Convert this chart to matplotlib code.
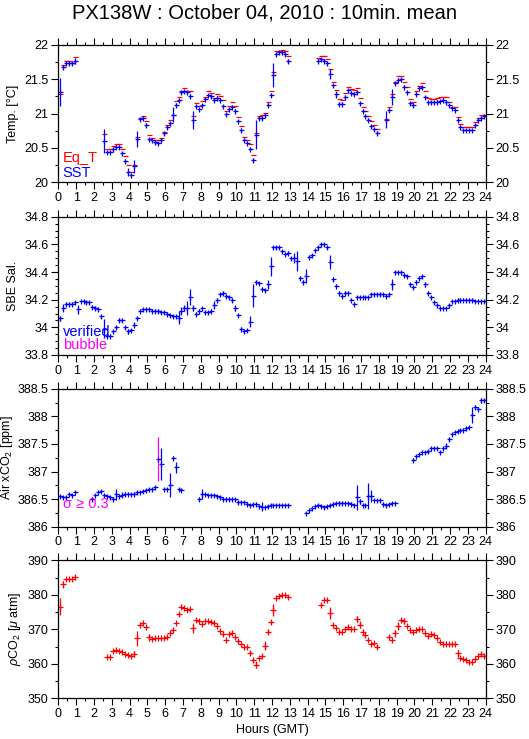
import numpy as np
import matplotlib
matplotlib.use('Agg')
import matplotlib.pyplot as plt
from matplotlib.ticker import MultipleLocator, FuncFormatter

nan = np.nan

# ---------------- data (10-min means, 144 intervals) ----------------
hours = (np.arange(144) + 0.5) / 6.0

sst = [21.31, 21.67, 21.73, 21.73, 21.73, 21.76,
       nan, nan, nan, nan, nan, nan, nan, nan, nan,
       20.60, 20.44, 20.44, 20.48, 20.52, 20.52, 20.42, 20.31, 20.15, 20.10,
       20.23, 20.63, 20.92, 20.94, 20.83, 20.63, 20.61, 20.58, 20.57, 20.62,
       20.71, 20.80, 20.86, 20.98, 21.13, 21.19, 21.31, 21.32, 21.31, 21.26,
       20.91, 21.11, 21.06, 21.12, 21.21, 21.27, 21.25, 21.20, 21.23, 21.20,
       21.11, 20.99, 21.06, 21.10, 21.04, 20.89, 20.76, 20.62, 20.57, 20.49,
       20.33, 20.69, 20.94, 20.94, 20.98, 21.12, 21.27, 21.56, 21.86, 21.89,
       21.89, 21.86, 21.76,
       nan, nan, nan, nan, nan, nan, nan, nan, nan,
       21.77, 21.79, 21.77, 21.73, 21.57, 21.41, 21.28, 21.14, 21.14, 21.24,
       21.34, 21.30, 21.29, 21.31, 21.15, 21.04, 20.97, 20.91, 20.82, 20.77,
       20.72,
       nan, nan,
       20.91, 21.05, 21.24, 21.44, 21.49, 21.50, 21.39, 21.31, 21.15, 21.12,
       21.29, 21.37, 21.38, 21.24, 21.16, 21.16, 21.16, 21.17, 21.18, 21.20,
       21.17, 21.12, 21.08, 21.05, 20.91, 20.81, 20.76, 20.76, 20.76, 20.76,
       20.83, 20.91, 20.94, 20.96]

sst_sd = [0.20, 0.03, 0.02, 0.02, 0.02, 0.04,
          nan, nan, nan, nan, nan, nan, nan, nan, nan,
          0.18, 0.02, 0.02, 0.02, 0.02, 0.02, 0.02, 0.03, 0.06, 0.02,
          0.10, 0.12, 0.02, 0.02, 0.03, 0.02, 0.02, 0.02, 0.02, 0.02,
          0.02, 0.02, 0.02, 0.11, 0.02, 0.02, 0.02, 0.02, 0.02, 0.03,
          0.13, 0.02, 0.02, 0.02, 0.02, 0.02, 0.02, 0.02, 0.02, 0.02,
          0.02, 0.02, 0.02, 0.02, 0.02, 0.02, 0.03, 0.02, 0.02, 0.02,
          0.03, 0.21, 0.02, 0.02, 0.02, 0.03, 0.03, 0.17, 0.02, 0.02,
          0.02, 0.02, 0.03,
          nan, nan, nan, nan, nan, nan, nan, nan, nan,
          0.02, 0.02, 0.02, 0.02, 0.07, 0.02, 0.05, 0.02, 0.02, 0.03,
          0.02, 0.02, 0.02, 0.02, 0.02, 0.02, 0.02, 0.02, 0.02, 0.02,
          0.02,
          nan, nan,
          0.12, 0.03, 0.12, 0.02, 0.02, 0.02, 0.02, 0.02, 0.02, 0.02,
          0.02, 0.02, 0.02, 0.02, 0.02, 0.02, 0.02, 0.02, 0.02, 0.02,
          0.02, 0.02, 0.02, 0.02, 0.02, 0.02, 0.02, 0.02, 0.02, 0.02,
          0.02, 0.02, 0.02, 0.02]

eq_t = [21.29, 21.71, 21.77, 21.77, 21.74, 21.82,
        nan, nan, nan, nan, nan, nan, nan, nan, nan,
        20.70, 20.49, 20.48, 20.53, 20.56, 20.56, 20.48, 20.38, 20.25, 20.15,
        20.25, 20.66, 20.93, 20.96, 20.89, 20.69, 20.65, 20.61, 20.61, 20.65,
        20.73, 20.84, 20.90, 20.98, 21.18, 21.24, 21.33, 21.37, 21.33, 21.32,
        20.96, 21.15, 21.11, 21.18, 21.24, 21.32, 21.30, 21.23, 21.28, 21.25,
        21.19, 21.03, 21.11, 21.17, 21.11, 20.95, 20.82, 20.66, 20.62, 20.56,
        20.39, 20.72, 20.97, 20.98, 21.01, 21.17, 21.32, 21.60, 21.91, 21.91,
        21.92, 21.91, 21.84,
        nan, nan, nan, nan, nan, nan, nan, nan, nan,
        21.81, 21.84, 21.83, 21.79, 21.64, 21.46, 21.34, 21.21, 21.20, 21.30,
        21.39, 21.35, 21.34, 21.37, 21.22, 21.09, 21.03, 20.96, 20.89, 20.83,
        20.78,
        nan, nan,
        20.92, 21.09, 21.28, 21.46, 21.54, 21.55, 21.46, 21.38, 21.21, 21.17,
        21.33, 21.40, 21.44, 21.32, 21.23, 21.21, 21.21, 21.23, 21.24, 21.24,
        21.24, 21.16, 21.10, 21.09, 20.95, 20.85, 20.81, 20.81, 20.81, 20.80,
        20.87, 20.94, 20.98, 20.98]

sal = [34.065, 34.14, 34.17, 34.17, 34.17, 34.18, 34.13, 34.19, 34.19, 34.18,
       34.18, 34.15, 34.14, 34.13, 34.08, 33.99, 33.94, 33.94, 33.97, 34.00,
       34.05, 34.05, 34.00, 33.97, 33.98, 34.02, 34.07, 34.12, 34.13, 34.13,
       34.13, 34.12, 34.12, 34.12, 34.11, 34.11, 34.10, 34.09, 34.08, 34.08,
       34.07, 34.12, 34.14, 34.14, 34.22, 34.14, 34.10, 34.12, 34.14, 34.11,
       34.11, 34.12, 34.16, 34.20, 34.24, 34.25, 34.23, 34.22, 34.20, 34.14,
       34.09, 33.99, 33.97, 33.98, 34.04, 34.23, 34.33, 34.32, 34.28, 34.27,
       34.31, 34.44, 34.58, 34.58, 34.58, 34.55, 34.53, 34.54, 34.50, 34.50,
       34.48, 34.36, 34.33, 34.37, 34.51, 34.52, 34.56, 34.58, 34.60, 34.60,
       34.58, 34.47, 34.35, 34.30, 34.25, 34.23, 34.25, 34.25, 34.20, 34.17,
       34.22, 34.22, 34.22, 34.22, 34.22, 34.24, 34.24, 34.24, 34.24, 34.24,
       34.23, 34.24, 34.31, 34.40, 34.40, 34.40, 34.38, 34.37, 34.31, 34.29,
       34.33, 34.36, 34.37, 34.31, 34.25, 34.22, 34.18, 34.16, 34.14, 34.14,
       34.14, 34.16, 34.19, 34.19, 34.20, 34.20, 34.20, 34.20, 34.20, 34.20,
       34.19, 34.19, 34.19, 34.19]

sal_sd = [0.02, 0.03, 0.01, 0.01, 0.01, 0.01, 0.035, 0.01, 0.01, 0.01,
          0.01, 0.01, 0.015, 0.01, 0.01, 0.07, 0.01, 0.01, 0.01, 0.01,
          0.015, 0.01, 0.01, 0.015, 0.01, 0.015, 0.01, 0.01, 0.01, 0.01,
          0.01, 0.01, 0.01, 0.01, 0.01, 0.01, 0.01, 0.01, 0.01, 0.01,
          0.045, 0.03, 0.02, 0.05, 0.06, 0.02, 0.01, 0.01, 0.01, 0.01,
          0.01, 0.01, 0.03, 0.01, 0.01, 0.01, 0.01, 0.01, 0.01, 0.02,
          0.01, 0.01, 0.01, 0.01, 0.04, 0.08, 0.01, 0.01, 0.01, 0.01,
          0.03, 0.07, 0.01, 0.01, 0.01, 0.01, 0.01, 0.01, 0.01, 0.035,
          0.07, 0.01, 0.01, 0.05, 0.01, 0.01, 0.01, 0.01, 0.01, 0.01,
          0.01, 0.05, 0.015, 0.01, 0.01, 0.01, 0.01, 0.01, 0.01, 0.01,
          0.01, 0.01, 0.01, 0.01, 0.01, 0.01, 0.01, 0.01, 0.01, 0.01,
          0.01, 0.01, 0.04, 0.01, 0.01, 0.01, 0.01, 0.01, 0.01, 0.01,
          0.01, 0.01, 0.01, 0.02, 0.01, 0.01, 0.01, 0.01, 0.01, 0.01,
          0.01, 0.01, 0.01, 0.01, 0.01, 0.01, 0.01, 0.01, 0.01, 0.01,
          0.01, 0.01, 0.01, 0.01]

air = [386.56, 386.54, 386.53, 386.59, 386.57, 386.62,
       nan, nan, nan, nan, nan,
       386.51, 386.58, 386.63, 386.64, 386.57, 386.55, 386.53, 386.51, 386.59, 386.55,
       386.58, 386.60, 386.60, 386.59, 386.60, 386.62, 386.63, 386.65, 386.67, 386.68,
       386.69, 386.72, 387.22, 387.13, 386.68, 386.69, 386.75, 387.25, 387.08, 386.69,
       386.66,
       nan, nan, nan, nan, nan,
       386.51, 386.60, 386.59, 386.57, 386.57, 386.57, 386.55, 386.53, 386.51, 386.51,
       386.51, 386.51, 386.50, 386.45, 386.45, 386.45, 386.42, 386.40, 386.41, 386.42,
       386.37, 386.36, 386.36, 386.38, 386.40, 386.40, 386.39, 386.39, 386.39, 386.40,
       386.40,
       nan, nan, nan, nan, nan,
       386.25, 386.30, 386.34, 386.38, 386.39, 386.38, 386.35, 386.37, 386.39, 386.42,
       386.43, 386.43, 386.43, 386.43, 386.43, 386.42, 386.40, 386.53, 386.46, 386.40,
       386.40, 386.56, 386.56, 386.48, 386.48, 386.48, 386.42, 386.39, 386.41, 386.43,
       386.43,
       nan, nan, nan, nan, nan,
       387.21, 387.28, 387.31, 387.35, 387.36, 387.37, 387.43, 387.43, 387.43, 387.36,
       387.42, 387.47, 387.59, 387.68, 387.71, 387.73, 387.75, 387.76, 387.78, 387.81,
       388.02, 388.17, 388.14, 388.29, 388.29]

air_sd = [0.02, 0.02, 0.02, 0.02, 0.02, 0.03,
          nan, nan, nan, nan, nan,
          0.02, 0.02, 0.02, 0.02, 0.02, 0.02, 0.02, 0.02, 0.10, 0.02,
          0.04, 0.02, 0.02, 0.02, 0.02, 0.02, 0.02, 0.02, 0.02, 0.02,
          0.02, 0.02, 0.40, 0.29, 0.02, 0.02, 0.22, 0.03, 0.10, 0.02,
          0.02,
          nan, nan, nan, nan, nan,
          0.02, 0.09, 0.02, 0.02, 0.02, 0.02, 0.02, 0.02, 0.02, 0.02,
          0.02, 0.02, 0.02, 0.03, 0.02, 0.02, 0.03, 0.02, 0.02, 0.03,
          0.02, 0.08, 0.02, 0.02, 0.02, 0.02, 0.02, 0.02, 0.02, 0.02,
          0.02,
          nan, nan, nan, nan, nan,
          0.02, 0.02, 0.02, 0.02, 0.02, 0.02, 0.02, 0.02, 0.02, 0.02,
          0.02, 0.04, 0.03, 0.02, 0.02, 0.02, 0.02, 0.22, 0.04, 0.02,
          0.02, 0.24, 0.11, 0.02, 0.02, 0.02, 0.02, 0.02, 0.02, 0.02,
          0.02,
          nan, nan, nan, nan, nan,
          0.03, 0.02, 0.02, 0.02, 0.02, 0.02, 0.02, 0.02, 0.02, 0.02,
          0.02, 0.05, 0.04, 0.02, 0.02, 0.02, 0.02, 0.02, 0.02, 0.02,
          0.15, 0.04, 0.02, 0.04, 0.02]

pco2 = [376.6, 383.0, 384.5, 384.5, 384.5, 385.3,
        nan, nan, nan, nan, nan, nan, nan, nan, nan, nan,
        361.9, 361.9, 363.7, 364.1, 363.8, 363.5, 362.9, 362.6, 362.3, 362.8,
        367.4, 371.3, 371.7, 370.6, 367.7, 367.1, 367.4, 367.4, 367.4, 367.6,
        367.9, 368.8, 369.8, 371.9, 374.4, 376.6, 376.1, 375.6, 375.8, 370.3,
        372.7, 372.5, 371.5, 372.4, 372.4, 372.0, 371.9, 371.1, 369.6, 368.6,
        366.9, 368.6, 369.0, 367.7, 366.7, 365.7, 364.8, 364.8, 363.2, 361.1,
        359.7, 361.6, 362.3, 365.3, 369.3, 372.2, 375.6, 379.0, 379.7, 380.0,
        379.9, 379.3,
        nan, nan, nan, nan, nan, nan, nan, nan, nan, nan,
        377.1, 378.5, 378.5, 374.8, 371.3, 370.3, 369.3, 369.3, 370.1, 370.8,
        370.2, 370.2, 372.9, 371.3, 369.3, 368.4, 366.9, 365.7, 366.1, 364.8,
        nan, nan, nan,
        367.9, 366.9, 368.8, 371.0, 372.7, 372.4, 371.0, 369.8, 369.3, 369.8,
        370.0, 370.0, 368.8, 368.1, 368.6, 368.3, 367.4, 366.4, 365.7, 365.7,
        365.7, 365.7, 365.7, 363.0, 361.8, 361.3, 361.1, 360.6, 360.4, 361.3,
        362.3, 362.8, 362.4]

pco2_sd = [2.4, 1.0, 0.3, 0.3, 0.3, 0.4,
           nan, nan, nan, nan, nan, nan, nan, nan, nan, nan,
           0.3, 0.3, 0.3, 0.3, 0.3, 0.3, 0.3, 0.3, 0.3, 0.8,
           2.2, 0.3, 0.3, 0.3, 1.0, 0.3, 0.3, 0.3, 0.3, 0.3,
           0.3, 0.3, 0.6, 0.3, 0.6, 0.3, 0.3, 0.3, 0.3, 1.5,
           0.5, 0.3, 0.3, 0.3, 0.3, 0.3, 0.3, 0.3, 0.5, 0.3,
           0.3, 0.3, 0.3, 0.5, 0.3, 0.3, 0.3, 0.3, 0.6, 0.6,
           1.0, 0.3, 0.3, 1.2, 0.8, 0.6, 1.6, 0.3, 0.3, 0.3,
           0.3, 0.3,
           nan, nan, nan, nan, nan, nan, nan, nan, nan, nan,
           0.3, 0.4, 0.4, 1.7, 0.3, 0.3, 0.3, 0.3, 0.3, 0.3,
           0.3, 0.3, 0.9, 1.0, 0.3, 0.3, 0.3, 0.3, 0.3, 0.4,
           nan, nan, nan,
           0.3, 0.4, 1.1, 1.1, 0.3, 0.8, 0.3, 0.3, 0.3, 0.3,
           0.3, 0.3, 0.3, 0.3, 0.3, 0.3, 0.3, 0.3, 0.3, 0.3,
           0.3, 0.3, 0.3, 1.1, 0.3, 0.3, 0.3, 0.3, 0.3, 0.3,
           0.3, 0.3, 0.3]

hour_ticks = list(range(0, 25))

# ---------------- style ----------------
plt.rcParams['font.family'] = ['Liberation Sans', 'DejaVu Sans']
plt.rcParams['mathtext.fontset'] = 'custom'
plt.rcParams['mathtext.rm'] = 'Liberation Sans'
plt.rcParams['mathtext.it'] = 'Liberation Sans:italic'
plt.rcParams['mathtext.sf'] = 'Liberation Sans'

BLUE = '#0000ff'
RED = '#ff0000'
MAG = '#ff00ff'
LW = 0.9
FS = 9
LEG_FS = 10.5

fig = plt.figure(figsize=(5.29, 7.39), dpi=100)
fig.text(0.5, 0.983, 'PX138W : October 04, 2010 : 10min. mean',
         ha='center', va='center', fontsize=14.5)

L, W = 58.3 / 529, (485.7 - 58.3) / 529
rows = [(182.3, 44.7), (355.0, 216.7), (526.7, 388.7), (698.3, 560.3)]
label_right_px = [19, 19, 15, 23]
axes = []
for bot, top in rows:
    ax = fig.add_axes([L, 1 - bot / 739, W, (bot - top) / 739])
    axes.append(ax)


def style(ax, ylim, major, minor, ylabel, lab_px):
    ax.set_xlim(0, 24)
    ax.set_ylim(*ylim)
    ax.set_xticks(hour_ticks)
    ax.xaxis.set_minor_locator(MultipleLocator(0.5))
    ax.yaxis.set_major_locator(MultipleLocator(major))
    ax.yaxis.set_minor_locator(MultipleLocator(minor))
    ax.yaxis.set_major_formatter(FuncFormatter(lambda v, p: f'{round(v, 2):g}'))
    ax.tick_params(which='both', direction='out', top=True, right=True,
                   labelright=True, labelsize=FS, width=0.8, pad=2)
    ax.tick_params(which='major', length=5)
    ax.tick_params(which='minor', length=2.5)
    for s in ax.spines.values():
        s.set_linewidth(0.9)
    ax.set_ylabel(ylabel, fontsize=FS)
    ax.yaxis.set_label_coords((lab_px - 58.3) / 427.4, 0.5)


def marks(ax, y, sd, color, sdcolor=None, ms=3.6):
    y = np.asarray(y, float)
    sd = np.asarray(sd, float)
    if sdcolor is None:
        ax.errorbar(hours, y, yerr=sd, fmt='none', ecolor=color,
                    elinewidth=LW, capsize=0)
    else:
        big = sd >= 0.3
        ax.errorbar(hours[~big], y[~big], yerr=sd[~big], fmt='none',
                    ecolor=color, elinewidth=LW, capsize=0)
        ax.errorbar(hours[big], y[big], yerr=sd[big], fmt='none',
                    ecolor=sdcolor, elinewidth=LW, capsize=0)
    ax.plot(hours, y, ls='none', marker='+', ms=ms, mew=LW, color=color)


# Panel 1: temperature
ax = axes[0]
style(ax, (20, 22), 0.5, 0.25, 'Temp. [°C]', label_right_px[0])
ax.plot(hours, eq_t, ls='none', marker='_', ms=3.6, mew=LW, color=RED)
marks(ax, sst, sst_sd, BLUE)
ax.text(0.01, 0.177, 'Eq_T', color=RED, transform=ax.transAxes, fontsize=LEG_FS, va='center')
ax.text(0.01, 0.065, 'SST', color=BLUE, transform=ax.transAxes, fontsize=LEG_FS, va='center')

# Panel 2: salinity
ax = axes[1]
style(ax, (33.8, 34.8), 0.2, 0.05, 'SBE Sal.', label_right_px[1])
marks(ax, sal, sal_sd, BLUE)
ax.text(0.01, 0.164, 'verified', color=BLUE, transform=ax.transAxes, fontsize=LEG_FS, va='center')
ax.text(0.01, 0.072, 'bubble', color=MAG, transform=ax.transAxes, fontsize=LEG_FS, va='center')

# Panel 3: air xCO2
ax = axes[2]
style(ax, (386, 388.5), 0.5, 0.25, 'Air xCO$_2$ [ppm]', label_right_px[2])
marks(ax, air, air_sd, BLUE, sdcolor=MAG)
ax.text(0.01, 0.167, 'σ ≥ 0.3', color=MAG, transform=ax.transAxes, fontsize=LEG_FS, va='center')

# Panel 4: pCO2
ax = axes[3]
style(ax, (350, 390), 10, 5, r'$\rho$CO$_2$ [$\mu$ atm]', label_right_px[3])
marks(ax, pco2, pco2_sd, RED, ms=3.8)
ax.set_xlabel('Hours (GMT)', fontsize=FS, labelpad=3)

fig.savefig('out.png', dpi=100)
